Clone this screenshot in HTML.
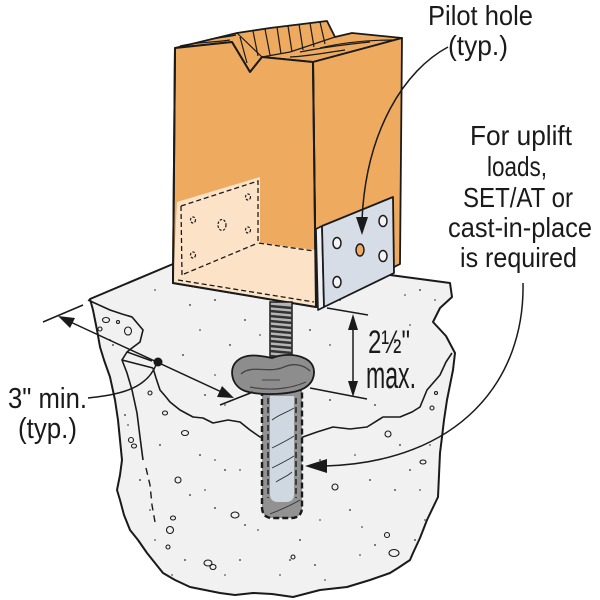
<!DOCTYPE html>
<html><head><meta charset="utf-8"><style>
html,body{margin:0;padding:0;background:#fff}
svg{display:block}
text{font-family:"Liberation Sans",Arial,sans-serif;fill:#1a1a1a}
</style></head><body>
<svg width="600" height="600" viewBox="0 0 600 600" xmlns="http://www.w3.org/2000/svg">
<rect width="600" height="600" fill="#fff"/>

<!-- Concrete -->
<path d="M90,299 L173,264 L390,275 L450,283 L452,297 L440,308 L433,322 L446,336 L455,353 L453,370 L447,400 L444,420 L442,437 L440,453 L439,475 L438,497 L427,520 L420,538 L413,553 L410,560 L398,568 L390,573 L370,580 L347,587 L320,590 L293,597 L272,594 L253,593 L235,595 L220,593 L190,587 L175,580 L163,573 L147,553 L138,540 L130,530 L124,515 L120,500 L117,490 L120,475 L122,460 L120,440 L118,420 L115,400 L110,377 L104,360 L100,347 L97,330 L93,310 Z" fill="#f1f1f1" stroke="#1a1a1a" stroke-width="2" stroke-linejoin="round"/>
<!-- left chipped blob -->
<path d="M88,300 L110,310 L122,314 L132,317 L143,330 L140,342 L132,348 L127,352 L122,360 L127,373 L132,390 L137,413 L140,437 L143,460" fill="none" stroke="#1a1a1a" stroke-width="1.6"/>
<path d="M146,468 L150,485 L152,505 L155,522" fill="none" stroke="#1a1a1a" stroke-width="1.4" stroke-dasharray="7,5"/>
<path d="M127,352 L152,361 M122,360 L153,368" fill="none" stroke="#1a1a1a" stroke-width="1.5"/>
<!-- jagged front line -->
<path d="M153,368 L156,378 L160,390 L166,397 L170,402 L180,410 L193,417 L203,418 L213,423 L228,420 L240,422 L250,430 L260,437 L280,438 L300,438 L317,432 L333,427 L350,429 L367,427 L383,417 L400,417 L412,412 L420,407 L427,390 L440,375 L446,362 L452,353" fill="none" stroke="#1a1a1a" stroke-width="1.6" stroke-linejoin="round"/>

<!-- pebbles -->
<g fill="none" stroke="#1a1a1a" stroke-width="1.1">
<ellipse cx="106" cy="320" rx="3.5" ry="2.5"/>
<ellipse cx="128" cy="331" rx="3.5" ry="4"/>
<ellipse cx="100" cy="329" rx="2" ry="2"/>
<ellipse cx="118" cy="322" rx="1.5" ry="1.5"/>
<ellipse cx="150" cy="393" rx="2" ry="2"/>
<ellipse cx="165" cy="413" rx="2.5" ry="2"/>
<ellipse cx="185" cy="433" rx="3.5" ry="2.5"/>
<ellipse cx="131" cy="440" rx="2.5" ry="2.5"/>
<ellipse cx="134" cy="446" rx="2.5" ry="2"/>
<ellipse cx="178" cy="480" rx="3" ry="3"/>
<ellipse cx="173" cy="518" rx="2.5" ry="2"/>
<ellipse cx="170" cy="530" rx="3.5" ry="3.5"/>
<ellipse cx="168" cy="547" rx="2" ry="2"/>
<ellipse cx="208" cy="563" rx="4" ry="3"/>
<ellipse cx="213" cy="567" rx="3" ry="2.5"/>
<ellipse cx="235" cy="515" rx="4" ry="3"/>
<ellipse cx="293" cy="557" rx="2" ry="2"/>
<ellipse cx="335" cy="487" rx="3" ry="3"/>
<ellipse cx="388" cy="434" rx="3" ry="3"/>
<ellipse cx="423" cy="462" rx="3" ry="2"/>
<ellipse cx="387" cy="535" rx="2.5" ry="2.5"/>
<ellipse cx="394" cy="553" rx="5" ry="3.5"/>
<ellipse cx="432" cy="408" rx="2" ry="2"/>
<ellipse cx="436" cy="393" rx="1.5" ry="1.5"/>
<ellipse cx="245" cy="600" rx="0" ry="0"/>
</g>
<!-- speckles -->
<g fill="#555">
<circle cx="215" cy="300" r="1"/><circle cx="250" cy="290" r="0.9"/><circle cx="155" cy="290" r="0.9"/><circle cx="190" cy="305" r="1"/>
<circle cx="200" cy="330" r="0.9"/><circle cx="230" cy="345" r="1"/><circle cx="260" cy="335" r="0.9"/><circle cx="245" cy="320" r="1"/>
<circle cx="310" cy="330" r="1"/><circle cx="330" cy="345" r="0.9"/><circle cx="340" cy="300" r="1"/><circle cx="405" cy="295" r="0.9"/>
<circle cx="420" cy="290" r="1"/><circle cx="435" cy="300" r="0.9"/><circle cx="395" cy="340" r="1"/><circle cx="410" cy="325" r="0.9"/>
<circle cx="183" cy="355" r="1"/><circle cx="215" cy="375" r="0.9"/><circle cx="205" cy="395" r="1"/><circle cx="225" cy="405" r="0.9"/>
<circle cx="330" cy="400" r="1"/><circle cx="395" cy="370" r="0.9"/><circle cx="375" cy="405" r="1"/><circle cx="110" cy="340" r="1"/>
<circle cx="113" cy="345" r="1"/><circle cx="125" cy="415" r="1"/><circle cx="128" cy="425" r="0.9"/><circle cx="160" cy="445" r="1"/>
<circle cx="200" cy="455" r="1"/><circle cx="215" cy="460" r="0.9"/><circle cx="225" cy="470" r="1"/><circle cx="190" cy="495" r="1"/>
<circle cx="205" cy="490" r="0.9"/><circle cx="215" cy="508" r="1"/><circle cx="245" cy="525" r="1"/><circle cx="258" cy="530" r="0.9"/>
<circle cx="300" cy="540" r="1"/><circle cx="320" cy="520" r="0.9"/><circle cx="350" cy="510" r="1"/><circle cx="362" cy="527" r="0.9"/>
<circle cx="375" cy="545" r="1"/><circle cx="360" cy="555" r="0.9"/><circle cx="315" cy="565" r="1"/><circle cx="280" cy="575" r="0.9"/>
<circle cx="290" cy="560" r="1"/><circle cx="325" cy="580" r="0.9"/><circle cx="240" cy="560" r="1"/><circle cx="225" cy="575" r="0.9"/>
<circle cx="410" cy="470" r="1"/><circle cx="420" cy="490" r="0.9"/><circle cx="395" cy="490" r="1"/><circle cx="430" cy="445" r="0.9"/>
<circle cx="400" cy="445" r="1"/><circle cx="355" cy="455" r="0.9"/><circle cx="370" cy="480" r="1"/><circle cx="150" cy="510" r="0.9"/>
<circle cx="140" cy="480" r="1"/><circle cx="155" cy="540" r="0.9"/><circle cx="185" cy="560" r="1"/><circle cx="172" cy="575" r="0.9"/>
<circle cx="425" cy="520" r="0.9"/><circle cx="415" cy="540" r="1"/><circle cx="320" cy="460" r="1"/><circle cx="240" cy="470" r="0.9"/>
</g>

<!-- Post: top face -->
<path d="M175,48 L237,33 L270,28 L327,21 L335,37 L352,33 L402,38 L313,62 L262,57 L250,72 L232,42 Z" fill="#eeaa5e" stroke="#1a1a1a" stroke-width="1.8" stroke-linejoin="round"/>
<!-- groove ribs -->
<g stroke="#1a1a1a" stroke-width="1.2" fill="none">
<path d="M237,33 L262,57"/>
<path d="M240,37 L247,63"/>
<path d="M253,31 L258,56"/>
<path d="M265,29 L270,55"/>
<path d="M277,27 L281,54"/>
<path d="M288,26 L292,52"/>
<path d="M299,24 L303,50"/>
<path d="M310,23 L314,47"/>
<path d="M320,22 L325,44"/>
<path d="M262,57 L290,52 L335,37"/>
<path d="M180,46 C195,42 210,43 230,40"/>
<path d="M200,42 C212,38 222,38 236,35"/>
<path d="M300,52 C320,48 340,45 370,42"/>
<path d="M320,48 C345,42 370,40 395,40"/>
<path d="M290,57 C310,56 330,52 345,50"/>
</g>
<!-- right face -->
<path d="M313,62 L402,38 L400,264 L316,307 Z" fill="#eeaa5e" stroke="#1a1a1a" stroke-width="1.8" stroke-linejoin="round"/>
<!-- front face -->
<path d="M175,48 L232,42 L250,72 L262,57 L313,62 L316,307 L173,283 Z" fill="#eeaa5e" stroke="#1a1a1a" stroke-width="2" stroke-linejoin="round"/>
<!-- peach region -->
<path d="M177,202 L260,177 L260,243 L315,250 L316,307 L173,283 Z" fill="#fce3c7"/>
<path d="M175,48 L173,283 L316,307 L313,62" fill="none" stroke="#1a1a1a" stroke-width="2"/>
<g fill="none" stroke="#1a1a1a" stroke-width="1.3" stroke-dasharray="5,3">
<path d="M181,206 L258,181 L258,243 L314,251"/>
<path d="M181,206 L182,275"/>
<path d="M184,274 L258,243"/>
<path d="M178,280 L314,302"/>
</g>
<!-- hidden plate holes -->
<g fill="none" stroke="#1a1a1a" stroke-width="1.2" stroke-dasharray="2.5,1.5">
<ellipse cx="193" cy="220" rx="2.5" ry="3"/>
<ellipse cx="222" cy="225" rx="4" ry="5.5"/>
<ellipse cx="248" cy="197" rx="2.5" ry="3"/>
<ellipse cx="248" cy="230" rx="2.5" ry="3"/>
<ellipse cx="193" cy="255" rx="2.5" ry="3"/>
</g>
<!-- right plate -->
<path d="M316,229 L322,226 L324,307 L318,310 Z" fill="#eef0f3" stroke="#1a1a1a" stroke-width="1.6" stroke-linejoin="round"/>
<path d="M322,226 L393,197 L394,273 L324,307 Z" fill="#d6dde7" stroke="#1a1a1a" stroke-width="1.8" stroke-linejoin="round"/>
<g stroke="#1a1a1a" stroke-width="1.5">
<ellipse cx="337" cy="243" rx="4" ry="5.5" fill="#f4f4f4"/>
<ellipse cx="383" cy="221" rx="4" ry="5.5" fill="#f4f4f4"/>
<ellipse cx="383" cy="256" rx="4" ry="5.5" fill="#f4f4f4"/>
<ellipse cx="337" cy="282" rx="4" ry="5.5" fill="#f4f4f4"/>
<ellipse cx="360" cy="250" rx="4" ry="6" fill="#eeaa5e"/>
</g>

<!-- threaded rod -->
<rect x="270" y="302" width="22" height="60" fill="#b5b5b5" stroke="#1a1a1a" stroke-width="1.5"/>
<g stroke="#333" stroke-width="2.4">
<line x1="270" y1="306" x2="292" y2="308"/><line x1="270" y1="311" x2="292" y2="313"/><line x1="270" y1="316" x2="292" y2="318"/>
<line x1="270" y1="321" x2="292" y2="323"/><line x1="270" y1="326" x2="292" y2="328"/><line x1="270" y1="331" x2="292" y2="333"/>
<line x1="270" y1="336" x2="292" y2="338"/><line x1="270" y1="341" x2="292" y2="343"/><line x1="270" y1="346" x2="292" y2="348"/>
<line x1="270" y1="351" x2="292" y2="353"/><line x1="270" y1="356" x2="292" y2="358"/>
</g>

<!-- tube -->
<path d="M262,390 L262,507 Q262,518 273,518 L291,518 Q302,518 302,507 L302,390 Z" fill="#929292" stroke="#1a1a1a" stroke-width="2.4" stroke-dasharray="6,3"/>
<path d="M270,396 L270,494 Q270,502 278,502 L286,502 Q294,502 294,494 L294,396 Z" fill="#cfd8e1"/>
<g fill="none" stroke="#1a1a1a" stroke-width="1.4" stroke-dasharray="6,3">
<path d="M268,398 L268,498"/><path d="M296,398 L296,498"/>
</g>
<g fill="none" stroke="#333" stroke-width="0.9">
<path d="M272,420 C280,414 288,412 294,408"/>
<path d="M272,448 C280,444 288,440 294,436"/>
<path d="M272,468 C280,464 288,460 294,456"/>
<path d="M276,482 C282,478 288,476 292,472"/>
<path d="M270,514 C280,510 290,506 300,500"/>
</g>

<!-- nut / adhesive blob -->
<path d="M236,362 C245,352 262,356 272,358 C285,353 300,354 309,361 C317,368 315,381 306,387 C295,395 260,396 245,391 C231,386 229,369 236,362 Z" fill="#8d8d8d" stroke="#1a1a1a" stroke-width="1.8"/>
<path d="M241,374 C252,364 268,374 284,367 C295,362 305,366 310,371" fill="none" stroke="#444" stroke-width="1.3"/>
<path d="M250,387 C270,391 290,389 306,382" fill="none" stroke="#444" stroke-width="1.2"/>
<path d="M262,380 L280,380" fill="none" stroke="#444" stroke-width="1.1"/>

<!-- 2 1/2" dimension -->
<g stroke="#1a1a1a" stroke-width="1.5" fill="none">
<line x1="327" y1="308" x2="368" y2="315"/>
<line x1="310" y1="388" x2="367" y2="399"/>
<line x1="353" y1="322" x2="353" y2="390"/>
</g>
<path d="M353,314 L348,330 L358,330 Z" fill="#1a1a1a"/>
<path d="M353,397 L348,381 L358,381 Z" fill="#1a1a1a"/>

<!-- 3" dimension -->
<g stroke="#1a1a1a" stroke-width="1.5" fill="none">
<line x1="43" y1="322" x2="83" y2="305"/>
<line x1="220" y1="405" x2="253" y2="392"/>
<line x1="64" y1="319" x2="228" y2="395"/>
</g>
<path d="M58,316 L75,318 L70,328 Z" fill="#1a1a1a"/>
<path d="M234,398 L217,397 L222,386 Z" fill="#1a1a1a"/>
<circle cx="158" cy="362" r="4.5" fill="#1a1a1a"/>
<path d="M88,398 C112,395 145,392 156,365" fill="none" stroke="#1a1a1a" stroke-width="1.5"/>

<!-- Pilot hole leader -->
<path d="M448,47 C405,70 366,130 362,220" fill="none" stroke="#1a1a1a" stroke-width="1.5"/>
<path d="M362,235 L356,217 L368,217 Z" fill="#1a1a1a"/>

<!-- uplift leader -->
<path d="M523,283 C525,380 460,462 325,466" fill="none" stroke="#1a1a1a" stroke-width="1.5"/>
<path d="M305,466 L327,459 L327,473 Z" fill="#1a1a1a"/>

<!-- text -->
<g font-size="27.5">
<text x="428" y="25" textLength="105" lengthAdjust="spacingAndGlyphs">Pilot hole</text>
<text x="448" y="55" textLength="60" lengthAdjust="spacingAndGlyphs">(typ.)</text>
<text x="470" y="145" textLength="102" lengthAdjust="spacingAndGlyphs">For uplift</text>
<text x="487" y="176" textLength="60" lengthAdjust="spacingAndGlyphs">loads,</text>
<text x="463" y="207" textLength="110" lengthAdjust="spacingAndGlyphs">SET/AT or</text>
<text x="448" y="237" textLength="144" lengthAdjust="spacingAndGlyphs">cast-in-place</text>
<text x="460" y="267" textLength="117" lengthAdjust="spacingAndGlyphs">is required</text>
<text x="8" y="408" font-size="29" textLength="79" lengthAdjust="spacingAndGlyphs">3" min.</text>
<text x="18" y="438" font-size="29" textLength="59" lengthAdjust="spacingAndGlyphs">(typ.)</text>
</g>
<text x="368" y="353" font-size="32" textLength="42" lengthAdjust="spacingAndGlyphs">2½"</text>
<text x="366" y="388" font-size="38" textLength="50" lengthAdjust="spacingAndGlyphs">max.</text>
</svg>
</body></html>
